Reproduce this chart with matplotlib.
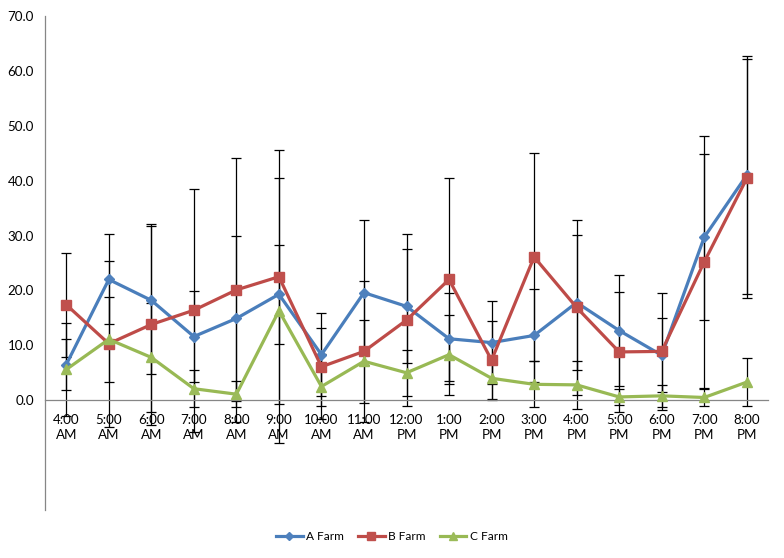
import matplotlib
matplotlib.use("Agg")
import matplotlib.pyplot as plt
import numpy as np

# hourly values
hours = ["4:00\nAM", "5:00\nAM", "6:00\nAM", "7:00\nAM", "8:00\nAM", "9:00\nAM",
         "10:00\nAM", "11:00\nAM", "12:00\nPM", "1:00\nPM", "2:00\nPM", "3:00\nPM",
         "4:00\nPM", "5:00\nPM", "6:00\nPM", "7:00\nPM", "8:00\nPM"]

a_farm = [6.5, 22.0, 18.2, 11.6, 14.9, 19.3, 8.3, 19.6, 17.1, 11.2, 10.5, 11.8, 17.8, 12.7, 8.2, 29.7, 41.0]
a_err = [4.7, 8.2, 13.5, 8.3, 15.0, 9.0, 7.6, 13.2, 10.4, 8.3, 7.5, 8.5, 12.3, 10.1, 6.7, 15.1, 21.7]

b_farm = [17.4, 10.3, 13.8, 16.4, 20.1, 22.5, 6.1, 8.9, 14.6, 22.0, 7.3, 26.1, 16.9, 8.8, 8.9, 25.2, 40.4]
b_err = [9.5, 15.1, 18.3, 22.1, 24.1, 23.1, 7.1, 12.8, 15.7, 18.5, 7.1, 19.0, 15.9, 11.0, 10.7, 23.0, 21.8]

c_farm = [5.6, 11.1, 7.8, 2.1, 1.1, 16.3, 2.5, 7.1, 5.0, 8.3, 4.0, 2.9, 2.8, 0.6, 0.8, 0.5, 3.3]
c_err = [8.4, 7.7, 10.0, 3.4, 2.4, 24.1, 6.0, 7.6, 4.2, 7.3, 3.9, 4.2, 4.4, 1.4, 2.0, 1.6, 4.4]

plt.rcParams['font.family'] = ['Lato', 'DejaVu Sans']
plt.rcParams['font.size'] = 9.6

fig = plt.figure(figsize=(7.84, 5.58), dpi=100)
ax = fig.add_axes([0.0574, 0.086, 0.9222, 0.8853])

# x axis crosses at 0, the value axis runs on down to -20
ax.spines["top"].set_visible(False)
ax.spines["right"].set_visible(False)
ax.spines["bottom"].set_position(("data", 0))
for s in ["left", "bottom"]:
    ax.spines[s].set_color("#868686")
    ax.spines[s].set_linewidth(0.9)

x = np.arange(len(hours))
series = [
    ("A Farm", a_farm, a_err, "#4A7EBB", "#4F81BD", "D", 5.5),
    ("B Farm", b_farm, b_err, "#BE4B48", "#C0504D", "s", 6.8),
    ("C Farm", c_farm, c_err, "#98B954", "#9BBB59", "^", 7.5),
]

for name, vals, errs, lc, mc, mk, ms in series:
    ax.errorbar(x, vals, yerr=errs, fmt="none", ecolor="black", elinewidth=0.9,
                capsize=3.5, capthick=0.9, zorder=2)
for name, vals, errs, lc, mc, mk, ms in series:
    ax.plot(x, vals, color=lc, lw=2.3, marker=mk, markersize=ms,
            markerfacecolor=mc, markeredgecolor=mc, label=name, zorder=3)

ax.set_xlim(-0.5, len(hours) - 0.5)
ax.set_ylim(-20, 70)
ax.set_yticks(np.arange(0, 71, 10))
ax.set_yticklabels(["%.1f" % v for v in np.arange(0, 71, 10)])
ax.set_xticks(x)
ax.set_xticklabels(hours)
ax.tick_params(axis="both", length=0, colors="black")
ax.tick_params(axis="y", pad=8)
ax.tick_params(axis="x", pad=10)
for lbl in ax.get_xticklabels():
    lbl.set_linespacing(1.3)

fig.legend(loc="center", bbox_to_anchor=(0.5, 0.038), ncol=3, frameon=False,
           handlelength=2.2, markerscale=0.75, columnspacing=1.2, handletextpad=0.3,
           fontsize=8.6)

fig.savefig("out.png", dpi=100)
